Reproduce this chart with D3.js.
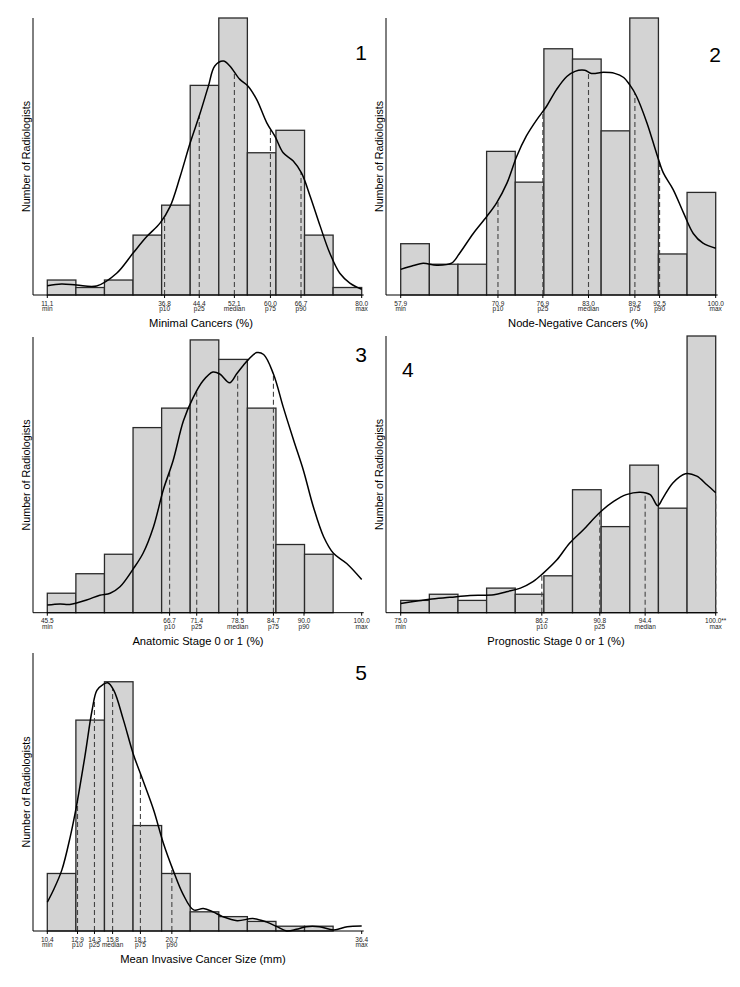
<!DOCTYPE html>
<html>
<head>
<meta charset="utf-8">
<script src="https://cdn.jsdelivr.net/npm/d3@7"></script>
<style>
  body { margin: 0; background: #fff; }
  svg { font-family: 'Liberation Sans', Arial, sans-serif; }
</style>
</head>
<body>
<svg id="chart" width="740" height="987"></svg>
<script>
// tick names shared by every panel
var tickNames = ['min', 'p10', 'p25', 'median', 'p75', 'p90', 'max']

// panel 1: minimal cancers
var minimalCounts = [2, 1, 2, 8, 12, 28, 37, 19, 22, 8, 1]
var minimalRange = [11.1, 80.0]
var minimalTicks = [11.1, 36.8, 44.4, 52.1, 60.0, 66.7, 80.0]
var minimalLabels = ['11.1', '36.8', '44.4', '52.1', '60.0', '66.7', '80.0']
var minimalDashed = [36.8, 44.4, 52.1, 60.0, 66.7]
var minimalCurve = [
  [11.1, 1.25], [14.2, 1.47], [17.5, 1.34], [21.9, 1.2], [26.3, 2.9], [29.9, 5.6],
  [32.9, 7.8], [35.8, 9.6], [38.0, 11.8], [40.2, 15.8], [42.4, 20.3], [44.6, 24.3],
  [46.4, 27.9], [47.8, 30.6], [49.7, 31.25], [51.1, 30.6], [53.3, 28.8], [55.1, 27.9],
  [57.0, 26.1], [59.2, 23.0], [61.0, 21.2], [62.8, 19.0], [65.0, 17.9], [66.8, 16.3],
  [68.7, 13.2], [70.9, 9.2], [73.0, 5.6], [75.2, 2.9], [77.4, 1.6], [80.0, 0.76]
]

// panel 2: node-negative cancers
var nodeCounts = [5, 3, 3, 14, 11, 24, 23, 16, 27, 4, 10]
var nodeRange = [57.9, 100.0]
var nodeTicks = [57.9, 70.9, 76.9, 83.0, 89.2, 92.5, 100.0]
var nodeLabels = ['57.9', '70.9', '76.9', '83.0', '89.2', '92.5', '100.0']
var nodeDashed = [70.9, 76.9, 83.0, 89.2, 92.5]
var nodeCurve = [
  [57.9, 2.5], [59.6, 2.87], [60.9, 3.1], [62.7, 2.9], [64.7, 3.1], [65.8, 4.1],
  [67.6, 6.0], [69.4, 7.65], [70.7, 8.96], [72.1, 10.9], [73.4, 13.5], [74.7, 15.5],
  [76.1, 17.1], [77.4, 18.4], [78.7, 20.0], [80.1, 21.3], [81.2, 21.8], [82.5, 21.9],
  [83.4, 21.6], [85.0, 21.7], [86.5, 21.6], [87.7, 21.2], [88.5, 20.5], [89.4, 19.4],
  [90.8, 16.8], [92.1, 13.8], [93.0, 11.9], [94.3, 10.3], [95.7, 8.0], [97.0, 6.0],
  [98.3, 5.05], [100.0, 4.56]
]

// panel 3: anatomic stage 0 or 1
var anatomicCounts = [2, 0, 4, 6, 19, 21, 28, 26, 21, 7, 6]
var anatomicRange = [45.5, 100.0]
var anatomicTicks = [45.5, 66.7, 71.4, 78.5, 84.7, 90.0, 100.0]
var anatomicLabels = ['45.5', '66.7', '71.4', '78.5', '84.7', '90.0', '100.0']
var anatomicDashed = [66.7, 71.4, 78.5, 84.7]
var anatomicCurve = [
  [45.5, 0.78], [47.7, 0.89], [49.4, 0.85], [52.3, 1.3], [54.6, 1.8], [56.4, 2.0],
  [58.1, 2.66], [60.4, 4.5], [62.1, 6.1], [63.9, 8.8], [65.6, 12.6], [67.3, 15.6],
  [69.1, 19.7], [70.8, 22.1], [72.5, 23.8], [74.2, 24.7], [75.4, 24.5], [77.1, 23.6],
  [78.3, 24.5], [79.5, 25.4], [80.4, 26.0], [81.8, 26.7], [83.0, 26.5], [84.7, 24.5],
  [86.4, 21.1], [88.2, 17.7], [89.9, 14.6], [91.6, 10.9], [93.4, 7.8], [95.1, 6.1],
  [97.4, 5.05], [100.0, 3.4]
]

// panel 4: prognostic stage 0 or 1
var prognosticCounts = [2, 3, 2, 4, 3, 6, 20, 14, 24, 17, 45]
var prognosticRange = [75.0, 100.0]
var prognosticTicks = [75.0, 86.2, 90.8, 94.4, 100.0]
var prognosticLabels = ['75.0', '86.2', '90.8', '94.4', '100.0**']
var prognosticNames = ['min', 'p10', 'p25', 'median', 'max']
var prognosticDashed = [86.2, 90.8, 94.4, 100.0]
var prognosticCurve = [
  [75.0, 1.5], [76.3, 1.9], [77.3, 2.2], [78.9, 2.5], [80.5, 2.8], [82.4, 2.9],
  [83.4, 3.4], [84.5, 4.0], [85.5, 5.05], [86.3, 6.4], [87.4, 8.6], [88.4, 11.3],
  [89.5, 13.5], [90.8, 16.3], [91.9, 18.1], [92.9, 19.2], [94.0, 19.6], [94.8, 19.2],
  [95.4, 17.4], [95.8, 18.6], [96.6, 21.1], [97.6, 22.6], [98.5, 22.2], [99.3, 20.8],
  [100.0, 19.5]
]

// panel 5: mean invasive cancer size
var sizeCounts = [12, 44, 52, 22, 12, 4, 3, 2, 0, 1, 1]
var sizeRange = [10.4, 36.4]
var sizeTicks = [10.4, 12.9, 14.3, 15.8, 18.1, 20.7, 36.4]
var sizeLabels = ['10.4', '12.9', '14.3', '15.8', '18.1', '20.7', '36.4']
var sizeDashed = [12.9, 14.3, 15.8, 18.1, 20.7]
var sizeCurve = [
  [10.4, 6.0], [10.9, 8.5], [11.6, 12.7], [12.3, 19.7], [12.8, 25.9], [13.5, 36.3],
  [14.1, 46.0], [14.5, 50.2], [15.0, 51.4], [15.4, 51.8], [15.9, 50.2], [16.7, 44.0],
  [17.5, 37.0], [18.3, 31.5], [19.2, 25.2], [20.0, 18.3], [20.8, 12.7], [21.6, 7.8],
  [22.5, 4.4], [23.3, 4.7], [24.1, 4.0], [24.9, 3.0], [26.1, 2.15], [27.4, 2.6],
  [28.5, 1.9], [29.4, 0.9], [30.2, 0.0], [31.0, 0.35], [31.8, 0.9], [32.9, 0.9],
  [34.1, 0.2], [35.2, 0.9], [36.4, 1.04]
]

var svg = d3.select('#chart')

// linear lookup of the curve height at x, used for the top of the dashed lines
function curveAt(curve, x) {
  for (var i = 1; i < curve.length; i++) {
    if (x <= curve[i][0]) {
      var a = curve[i - 1], b = curve[i]
      var t = (x - a[0]) / (b[0] - a[0])
      return a[1] + t * (b[1] - a[1])
    }
  }
  return curve[curve.length - 1][1]
}

function drawPanel(p) {
  var g = svg.append('g')

  var x = d3.scaleLinear().domain(p.range).range([p.left, p.right])
  var y = d3.scaleLinear().domain([0, p.yMax]).range([p.bottom, p.top])

  var n = p.counts.length
  var step = (p.range[1] - p.range[0]) / n

  // bars
  g.selectAll('rect')
    .data(p.counts)
    .enter()
    .append('rect')
    .filter(function(d) { return d > 0 })
    .attr('x', function(d, i) { return x(p.range[0] + i * step) })
    .attr('y', function(d) { return y(d) })
    .attr('width', function(d, i) { return x(p.range[0] + (i + 1) * step) - x(p.range[0] + i * step) })
    .attr('height', function(d) { return y(0) - y(d) })
    .attr('fill', '#d3d3d3')
    .attr('stroke', '#2a2a2a')
    .attr('stroke-width', 1.3)

  // percentile lines
  g.selectAll('.pline')
    .data(p.dashed)
    .enter()
    .append('line')
    .attr('x1', function(d) { return x(d) })
    .attr('x2', function(d) { return x(d) })
    .attr('y1', y(0))
    .attr('y2', function(d) { return y(curveAt(p.curve, d)) })
    .attr('stroke', '#444')
    .attr('stroke-width', 1.1)
    .attr('stroke-dasharray', '5,3')

  // density curve
  var line = d3.line()
    .x(function(d) { return x(d[0]) })
    .y(function(d) { return y(d[1]) })
    .curve(d3.curveCatmullRom)
  g.append('path')
    .datum(p.curve)
    .attr('d', line)
    .attr('fill', 'none')
    .attr('stroke', '#000')
    .attr('stroke-width', 1.5)

  // axes
  g.append('line')
    .attr('x1', p.axisX).attr('x2', p.axisX)
    .attr('y1', p.top).attr('y2', p.bottom)
    .attr('stroke', '#000').attr('stroke-width', 1)
  g.append('line')
    .attr('x1', p.axisX).attr('x2', p.right + 2)
    .attr('y1', p.bottom).attr('y2', p.bottom)
    .attr('stroke', '#000').attr('stroke-width', 1)

  var ticks = g.selectAll('.tick')
    .data(p.ticks)
    .enter()
    .append('g')
    .attr('transform', function(d) { return 'translate(' + x(d) + ',' + p.bottom + ')' })
  ticks.append('line').attr('y1', 0).attr('y2', 3).attr('stroke', '#000')
  ticks.append('text')
    .attr('y', 10.5)
    .attr('text-anchor', 'middle')
    .attr('font-size', 6.5)
    .attr('fill', '#222')
    .text(function(d, i) { return p.labels[i] })
  ticks.append('text')
    .attr('y', 16)
    .attr('text-anchor', 'middle')
    .attr('font-size', 6.5)
    .attr('fill', '#222')
    .text(function(d, i) { return p.names[i] })

  // titles
  g.append('text')
    .attr('transform', 'translate(' + p.yTitleX + ',' + (p.top + p.bottom) / 2 + ') rotate(-90)')
    .attr('text-anchor', 'middle')
    .attr('font-size', 10.7)
    .text('Number of Radiologists')
  g.append('text')
    .attr('x', p.titleX)
    .attr('y', p.bottom + 32)
    .attr('text-anchor', 'middle')
    .attr('font-size', 11.2)
    .text(p.title)
  g.append('text')
    .attr('x', p.numX)
    .attr('y', p.numY)
    .attr('text-anchor', p.numAnchor)
    .attr('font-size', 21)
    .text(p.num)
}

drawPanel({
  counts: minimalCounts, range: minimalRange, ticks: minimalTicks, labels: minimalLabels,
  names: tickNames, dashed: minimalDashed, curve: minimalCurve, title: 'Minimal Cancers (%)',
  num: '1', yMax: 37, axisX: 33, top: 18, bottom: 295, left: 47.3, right: 361.7,
  yTitleX: 30, titleX: 201, numX: 367, numY: 60, numAnchor: 'end'
})
drawPanel({
  counts: nodeCounts, range: nodeRange, ticks: nodeTicks, labels: nodeLabels,
  names: tickNames, dashed: nodeDashed, curve: nodeCurve, title: 'Node-Negative Cancers (%)',
  num: '2', yMax: 27, axisX: 386, top: 18, bottom: 295, left: 400.7, right: 715.7,
  yTitleX: 383, titleX: 578, numX: 721, numY: 62, numAnchor: 'end'
})
drawPanel({
  counts: anatomicCounts, range: anatomicRange, ticks: anatomicTicks, labels: anatomicLabels,
  names: tickNames, dashed: anatomicDashed, curve: anatomicCurve, title: 'Anatomic Stage 0 or 1 (%)',
  num: '3', yMax: 28.3, axisX: 33, top: 337, bottom: 612.7, left: 47.3, right: 361.7,
  yTitleX: 30, titleX: 198, numX: 367, numY: 362, numAnchor: 'end'
})
drawPanel({
  counts: prognosticCounts, range: prognosticRange, ticks: prognosticTicks, labels: prognosticLabels,
  names: prognosticNames, dashed: prognosticDashed, curve: prognosticCurve, title: 'Prognostic Stage 0 or 1 (%)',
  num: '4', yMax: 45, axisX: 386, top: 336, bottom: 612.7, left: 400.7, right: 715.7,
  yTitleX: 383, titleX: 556, numX: 402, numY: 377, numAnchor: 'start'
})
drawPanel({
  counts: sizeCounts, range: sizeRange, ticks: sizeTicks, labels: sizeLabels,
  names: tickNames, dashed: sizeDashed, curve: sizeCurve, title: 'Mean Invasive Cancer Size (mm)',
  num: '5', yMax: 58, axisX: 33, top: 653, bottom: 931, left: 47.3, right: 361.7,
  yTitleX: 30, titleX: 203, numX: 367, numY: 680, numAnchor: 'end'
})
</script>
</body>
</html>
